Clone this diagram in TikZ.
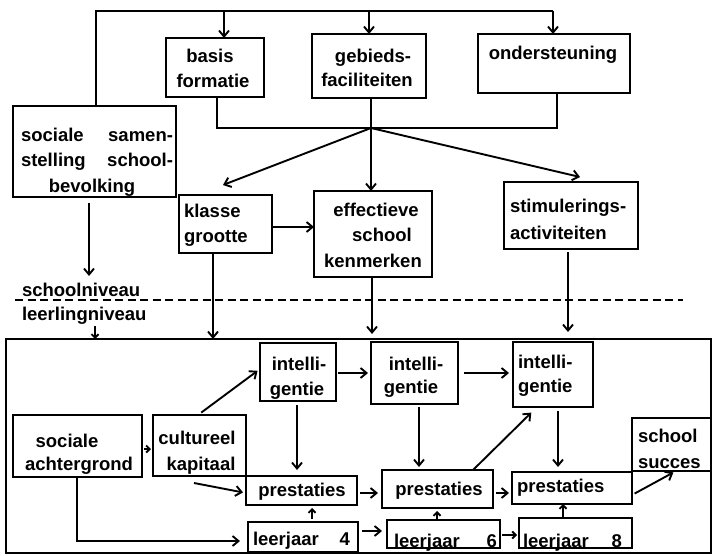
\documentclass[tikz,border=0pt]{standalone}
\usepackage{fontspec}
\setmainfont{Liberation Sans}
\usetikzlibrary{arrows.meta}
\newcommand\bx[5]{\node[box, minimum width={(#4-#2)*1pt}, minimum height={(#5-#3)*1pt}] (#1) at ({(#2+#4)/2},{(#3+#5)/2}) {};}
\begin{document}
\begin{tikzpicture}[x=1pt,y=-1pt,
 line width=1.9pt,
 box/.style={draw, inner sep=0pt, outer sep=0pt},
 txt/.style={inner sep=0pt, outer sep=0pt, font=\fontsize{18.5}{26}\selectfont\bfseries},
 arr/.style={-{Straight Barb[length=6pt,width=10pt]}},
 sarr/.style={-{Straight Barb[length=3.5pt,width=7pt]}},
]
\useasboundingbox (0,0) rectangle (715,556);
\fill[white] (0,0) rectangle (715,556);
% boxes
\bx{sss}{13}{106}{176}{197}
\bx{bas}{166}{38}{264}{97}
\bx{geb}{312}{34}{426}{98}
\bx{ond}{478}{34}{630}{93}
\bx{kla}{179}{195}{272}{253}
\bx{eff}{314}{191}{432}{277}
\bx{sti}{504}{182}{638}{249}
\bx{lvl}{6}{339}{711}{553}
\bx{ia}{260}{343}{336}{401}
\bx{ib}{371}{342}{458}{404}
\bx{ic}{513}{342}{593}{407}
\bx{sa}{13}{415}{142}{477}
\bx{ck}{153}{415}{246}{476}
\bx{pa}{246}{476}{357}{505}
\bx{pb}{382}{470}{493}{508}
\bx{pc}{512}{472}{632}{504}
\bx{ss}{632}{418}{711}{471}
\bx{la}{248}{522}{358}{552}
\bx{lb}{387}{520}{500}{548}
\bx{lc}{519}{518}{632}{548}
% texts
\node[txt,anchor=base] (t1) at (210,63) {basis};
\node[txt,anchor=base] (t2) at (213,88) {formatie};
\node[txt,anchor=base] (t3) at (373,63) {gebieds-};
\node[txt,anchor=base] (t4) at (367,87) {faciliteiten};
\node[txt,anchor=base] (t5) at (553,60) {ondersteuning};
\node[txt,anchor=base west] (t6) at (21,142) {\hbox to 152pt{sociale\hfill samen-}};
\node[txt,anchor=base west] (t7) at (21,167) {\hbox to 152pt{stelling\hfill school-}};
\node[txt,anchor=base] (t8) at (92,193) {bevolking};
\node[txt,anchor=base west] (t9) at (184,218) {klasse};
\node[txt,anchor=base west] (t10) at (184,243) {grootte};
\node[txt,anchor=base] (t11) at (376,217) {effectieve};
\node[txt,anchor=base] (t12) at (382,242) {school};
\node[txt,anchor=base] (t13) at (373,267) {kenmerken};
\node[txt,anchor=base west] (t14) at (510,213) {stimulerings-};
\node[txt,anchor=base west] (t15) at (510,240) {activiteiten};
\node[txt,anchor=base west] (t16) at (22,296) {schoolniveau};
\node[txt,anchor=base west] (t17) at (22,320) {leerlingniveau};
\node[txt,anchor=base] (t18) at (299,370) {intelli-};
\node[txt,anchor=base] (t19) at (297,395) {gentie};
\node[txt,anchor=base] (t20) at (416,370) {intelli-};
\node[txt,anchor=base] (t21) at (411,393) {gentie};
\node[txt,anchor=base west] (t22) at (518,368) {intelli-};
\node[txt,anchor=base west] (t23) at (518,392) {gentie};
\node[txt,anchor=base] (t24) at (67,447) {sociale};
\node[txt,anchor=base] (t25) at (79,470) {achtergrond};
\node[txt,anchor=base] (t26) at (197,444) {cultureel};
\node[txt,anchor=base] (t27) at (201,470) {kapitaal};
\node[txt,anchor=base] (t28) at (302,496) {prestaties};
\node[txt,anchor=base] (t29) at (439,495) {prestaties};
\node[txt,anchor=base west] (t30) at (517,492) {prestaties};
\node[txt,anchor=base west] (t31) at (638,442) {school};
\node[txt,anchor=base west] (t32) at (638,468) {succes};
\node[txt,anchor=base west] (t33) at (253,545) {\hbox to 97pt{leerjaar\hfill 4}};
\node[txt,anchor=base west] (t34) at (394,547) {\hbox to 103pt{leerjaar\hfill 6}};
\node[txt,anchor=base west] (t35) at (523,547) {\hbox to 99pt{leerjaar\hfill 8}};
% helper coordinates
\coordinate (tl) at (96,11); \coordinate (tr) at (553,11);
\coordinate (ta) at (224,11); \coordinate (tb) at (369,11);
\coordinate (bl) at (217,128); \coordinate (br) at (557,128);
\coordinate (jn) at (371,128);
\coordinate (ka) at (223,185); \coordinate (sta) at (580,177);
\coordinate (v1b) at (89,276); \coordinate (v2) at (95,326);
\coordinate (v3) at (213,0); \coordinate (v4) at (372,0); \coordinate (v5) at (568,0);
\coordinate (h227) at (0,227);
\coordinate (da) at (15,300); \coordinate (db) at (683,300);
\coordinate (h449) at (0,449); \coordinate (h369) at (0,369);
\coordinate (x198) at (198,0); \coordinate (x297) at (297,0);
\coordinate (c3) at (194,483); \coordinate (h493) at (0,493);
\coordinate (x77) at (77,0); \coordinate (h541) at (0,541);
\coordinate (x312) at (312,0); \coordinate (h373) at (0,373);
\coordinate (x419) at (419,0); \coordinate (x558) at (558,0);
\coordinate (x473) at (473,0); \coordinate (x537) at (537,0);
\coordinate (h495) at (0,495); \coordinate (x676) at (676,0);
\coordinate (h531) at (0,531); \coordinate (h535) at (0,535);
\coordinate (x437) at (437,0); \coordinate (x563) at (563,0);
% top connectors
\draw (sss.north -| tl) -- (tl) -- (tr);
\draw[arr] (tr) -- (tr |- ond.north);
\draw[arr] (ta) -- (ta |- bas.north);
\draw[arr] (tb) -- (tb |- geb.north);
\draw (bas.south -| bl) -- (bl) -- (br) -- (br |- ond.south);
\draw[arr] (geb.south -| jn) -- (jn) -- (jn |- eff.north);
\draw[arr] (jn) -- (ka);
\draw[arr] (jn) -- (sta);
\draw[arr] (kla.east |- h227) -- (eff.west |- h227);
\draw[arr, shorten <=6pt] (sss.south -| v1b) -- (v1b);
\draw[sarr] (v2) -- (v2 |- lvl.north);
\draw[arr] (kla.south -| v3) -- (v3 |- lvl.north);
\draw[arr, shorten >=5pt] (eff.south -| v4) -- (v4 |- lvl.north);
\draw[arr, shorten >=7pt, shorten <=3pt] (sti.south -| v5) -- (v5 |- lvl.north);
\draw[line width=1.6pt, dash pattern=on 8pt off 4.5pt] (da) -- (db);
% bottom connectors
\draw[sarr, shorten <=2pt, shorten >=2pt] (sa.east |- h449) -- (ck.west |- h449);
\draw[arr, shorten <=4pt, shorten >=3pt] (ck.north -| x198) -- (ia.west |- h369);
\draw[arr, shorten <=4pt, shorten >=6pt] (ia.south -| x297) -- (pa.north -| x297);
\draw[arr, shorten >=3pt] (c3) -- (pa.west |- h493);
\draw[arr, shorten >=8pt] (sa.south -| x77) |- (la.west |- h541);
\draw[sarr, shorten <=3pt, shorten >=3pt] (la.north -| x312) -- (pa.south -| x312);
\draw[arr, shorten <=2pt, shorten >=3pt] (ia.east |- h373) -- (ib.west |- h373);
\draw[arr, shorten <=6pt, shorten >=4pt] (ib.east |- h373) -- (ic.west |- h373);
\draw[arr, shorten <=3pt, shorten >=3pt] (ib.south -| x419) -- (pb.north -| x419);
\draw[arr, shorten <=4pt, shorten >=5pt] (ic.south -| x558) -- (pc.north -| x558);
\draw[arr, shorten <=3pt, shorten >=4pt] (pa.east |- h493) -- (pb.west |- h493);
\draw[arr, shorten <=3pt, shorten >=3pt] (pb.east |- h493) -- (pc.west |- h493);
\draw[arr, shorten >=8pt] (pb.north -| x473) -- (ic.south -| x537);
\draw[arr, shorten <=3pt, shorten >=3pt] (pc.east |- h495) -- (ss.south -| x676);
\draw[arr, shorten <=4pt, shorten >=5pt] (la.east |- h531) -- (lb.west |- h531);
\draw[sarr, shorten <=2pt, shorten >=2pt] (lb.east |- h535) -- (lc.west |- h535);
\draw[sarr, shorten >=3pt] (lb.north -| x437) -- (pb.south -| x437);
\draw[sarr] (lc.north -| x563) -- (pc.south -| x563);
\end{tikzpicture}
\end{document}
